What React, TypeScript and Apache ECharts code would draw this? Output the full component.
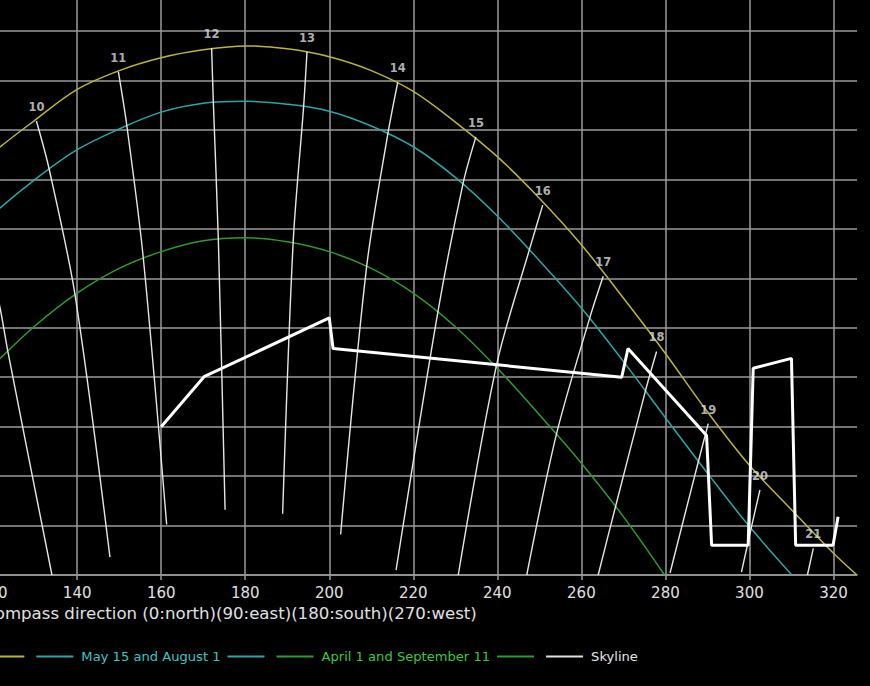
import { useEffect, useRef } from 'react';
import * as echarts from 'echarts';

type P = [number, number];

// x: compass direction (deg), y: sun altitude (deg)
const xMin = 40;
const xMax = 325.6;
const xStep = 20;
const yMin = 0;
const yMax = 60;
const yStep = 5;

const june21: P[] = [
  [110, 38.8], [120, 42.7], [130, 46.0], [140, 49.1], [150, 51.0], [160, 52.3], [170, 53.1],
  [180, 53.5], [190, 53.2], [200, 52.4], [210, 51.0], [220, 48.9], [230, 45.8], [240, 42.3],
  [250, 38.1], [260, 33.4], [270, 28.0], [280, 22.4], [290, 16.5], [300, 11.1], [310, 6.6],
  [320, 2.2], [325.6, 0],
];

const may15Aug1: P[] = [
  [110, 32.5], [120, 36.5], [130, 40.0], [140, 43.0], [150, 45.1], [160, 46.8], [170, 47.7],
  [180, 47.9], [190, 47.6], [200, 46.9], [210, 45.4], [220, 43.3], [230, 40.2], [240, 36.3],
  [250, 31.8], [260, 27.0], [270, 21.6], [280, 15.9], [290, 10.3], [300, 4.9], [310.1, 0],
];

const apr1Sep11: P[] = [
  [110, 16.8], [120, 21.2], [130, 25.2], [140, 28.5], [150, 31.0], [160, 32.7], [170, 33.8],
  [180, 34.1], [190, 33.7], [200, 32.7], [210, 31.0], [220, 28.5], [230, 25.1], [240, 20.9],
  [250, 16.2], [260, 11.3], [270, 5.9], [279.8, 0],
];

const skyline: P[] = [
  [160.0, 15.0], [170.2, 20.05], [200.0, 26.0], [200.9, 22.9], [269.6, 20.0], [271.1, 22.9],
  [289.8, 14.1], [291.0, 3.0], [299.7, 3.0], [300.9, 20.9], [310.0, 21.9], [311.0, 3.0],
  [319.9, 3.0], [321.1, 5.9],
];

// hour lines: June 21 position -> May 15 -> April 1 -> lowest point
const hour9: P[] = [[118.3, 32.9], [121.6, 27.1], [123.5, 22.6], [134.0, 0]];
const hour10: P[] = [[130.3, 45.9], [133.3, 41.1], [139.5, 28.3], [147.8, 1.8]];
const hour11: P[] = [[149.8, 50.9], [151.8, 45.5], [155.7, 32.2], [161.3, 5.1]];
const hour12: P[] = [[172.0, 53.3], [172.4, 47.9], [173.6, 33.9], [175.2, 6.6]];
const hour13: P[] = [[194.7, 52.9], [193.9, 47.4], [191.4, 33.6], [188.9, 6.2]];
const hour14: P[] = [[216.3, 49.8], [213.9, 44.5], [208.9, 31.2], [202.7, 4.1]];
const hour15: P[] = [[234.9, 44.3], [231.9, 39.7], [225.9, 26.7], [215.9, 0.5]];
const hour16: P[] = [[250.8, 37.4], [247.7, 33.0], [239.9, 21.4], [230.7, 0]];
const hour17: P[] = [[265.2, 30.2], [262.0, 26.0], [254.1, 14.3], [247.0, 0]];
const hour18: P[] = [[277.9, 22.6], [275.3, 18.7], [268.0, 6.7], [264.0, 0]];
const hour19: P[] = [[290.2, 15.3], [287.8, 11.4], [281.1, 0.2]];
const hour20: P[] = [[302.5, 8.6], [300.5, 4.9], [298.1, 0.3]];
const hour21: P[] = [[315.2, 2.7], [313.8, 0]];

const hourNames = ['9', '10', '11', '12', '13', '14', '15', '16', '17', '18', '19', '20', '21'];
const hourLines: P[][] = [hour9, hour10, hour11, hour12, hour13, hour14, hour15, hour16, hour17, hour18, hour19, hour20, hour21];
const labeledHours = ['10', '11', '12', '13', '14', '15', '16', '17', '18', '19', '20', '21'];

const dateNames = ['June 21', 'May 15 and August 1', 'April 1 and September 11'];
const skylineName = 'Skyline';
const axisName = 'Compass direction (0:north)(90:east)(180:south)(270:west)';

const FONT = 'DejaVu Sans';
const YELLOW = '#bab43c';
const CYAN = '#2aa6a8';
const GREEN = '#2f9a2f';
const YELLOW_TXT = '#c9c24a';
const CYAN_TXT = '#36c6c6';
const GREEN_TXT = '#3cc83c';
const GRID = '#9a9a9a';

// the picture shows a crop of a larger chart
const OFF_X = 400;
const OFF_Y = 40;

export default function App() {
  const ref = useRef<HTMLDivElement>(null);
  useEffect(() => {
    if (!ref.current) return;
    const chart = echarts.init(ref.current, undefined, { renderer: 'svg' });
    const dateData = [june21, may15Aug1, apr1Sep11];
    const dateColors = [YELLOW, CYAN, GREEN];
    const dateTxt = [YELLOW_TXT, CYAN_TXT, GREEN_TXT];
    const lineKeys = ['ly', 'lc', 'lg'];

    const series: any[] = [];
    dateNames.forEach((n, i) => {
      series.push({
        name: n,
        type: 'line',
        data: dateData[i],
        color: dateColors[i],
        showSymbol: false,
        symbol: 'none',
        smooth: 0.35,
        lineStyle: { width: 1.5, color: dateColors[i] },
        z: 3,
      });
    });
    hourLines.forEach((pts, i) => {
      series.push({
        name: 'hour ' + hourNames[i],
        type: 'line',
        data: pts,
        symbol: 'none',
        smooth: 0.3,
        lineStyle: { width: 1.4, color: '#e6e6e6' },
        z: 4,
        silent: true,
      });
    });
    series.push({
      name: 'hour labels',
      type: 'scatter',
      symbolSize: 0,
      z: 6,
      data: hourLines
        .map((pts, i) => ({ name: hourNames[i], value: pts[0] }))
        .filter((d) => labeledHours.includes(d.name)),
      label: {
        show: true,
        position: 'top',
        distance: 8,
        formatter: (p: any) => p.name,
        color: '#dedede',
        fontFamily: FONT,
        fontSize: 11.5,
        fontWeight: 600,
      },
    });
    series.push({
      name: skylineName,
      type: 'line',
      data: skyline,
      color: '#e0e0e0',
      symbol: 'none',
      lineStyle: { width: 3, color: '#ffffff' },
      z: 5,
    });

    const rich: any = { s: { width: 7, height: 2 } };
    dateColors.forEach((c, i) => {
      rich[lineKeys[i]] = { width: 37, height: 2, backgroundColor: c };
    });
    const legendData: any[] = dateNames.map((n, i) => ({ name: n, textStyle: { color: dateTxt[i] } }));
    legendData.push({ name: skylineName, textStyle: { color: '#e6e6e6' } });

    chart.setOption({
      animation: false,
      backgroundColor: '#000000',
      textStyle: { fontFamily: FONT },
      grid: { left: OFF_X - 343, right: 13, top: OFF_Y - 18.4, bottom: 111, outerBoundsMode: 'none' },
      legend: {
        left: OFF_X - 119,
        top: OFF_Y + 645,
        icon: 'rect',
        itemWidth: 37,
        itemHeight: 2,
        itemGap: 12,
        selectedMode: false,
        data: legendData,
        formatter: (n: string) => {
          const i = dateNames.indexOf(n);
          return i >= 0 ? `${n}{s|}{${lineKeys[i]}|}` : n;
        },
        textStyle: { fontFamily: FONT, fontSize: 13.1, padding: [0, 0, 0, 3], rich },
      },
      xAxis: {
        type: 'value',
        min: xMin,
        max: xMax,
        interval: xStep,
        name: axisName,
        nameLocation: 'middle',
        nameGap: 28,
        nameTextStyle: { color: '#e0e0e0', fontSize: 16.6, fontFamily: FONT, padding: [0, 54, 0, 0] },
        axisLine: { show: true, lineStyle: { color: GRID, width: 1.5 } },
        axisTick: { show: true, length: 5, lineStyle: { color: GRID, width: 1.5 } },
        axisLabel: {
          color: '#e0e0e0',
          fontSize: 15,
          fontFamily: FONT,
          margin: 10,
          showMaxLabel: false,
          formatter: (v: number) => (v >= 120 ? String(v) : ''),
        },
        splitLine: { show: true, showMaxLine: false, lineStyle: { color: GRID, width: 1.5 } },
      },
      yAxis: {
        type: 'value',
        min: yMin,
        max: yMax,
        interval: yStep,
        axisLine: { show: false },
        axisTick: { show: false },
        axisLabel: { show: false },
        splitLine: { show: true, lineStyle: { color: GRID, width: 1.5 } },
      },
      series,
    });
    return () => chart.dispose();
  }, []);
  return (
    <div style={{ position: 'fixed', left: 0, top: 0, width: 870, height: 686, overflow: 'hidden', background: '#000' }}>
      <div
        ref={ref}
        style={{ position: 'absolute', left: -OFF_X, top: -OFF_Y, width: 870 + OFF_X, height: 686 + OFF_Y }}
      />
    </div>
  );
}
